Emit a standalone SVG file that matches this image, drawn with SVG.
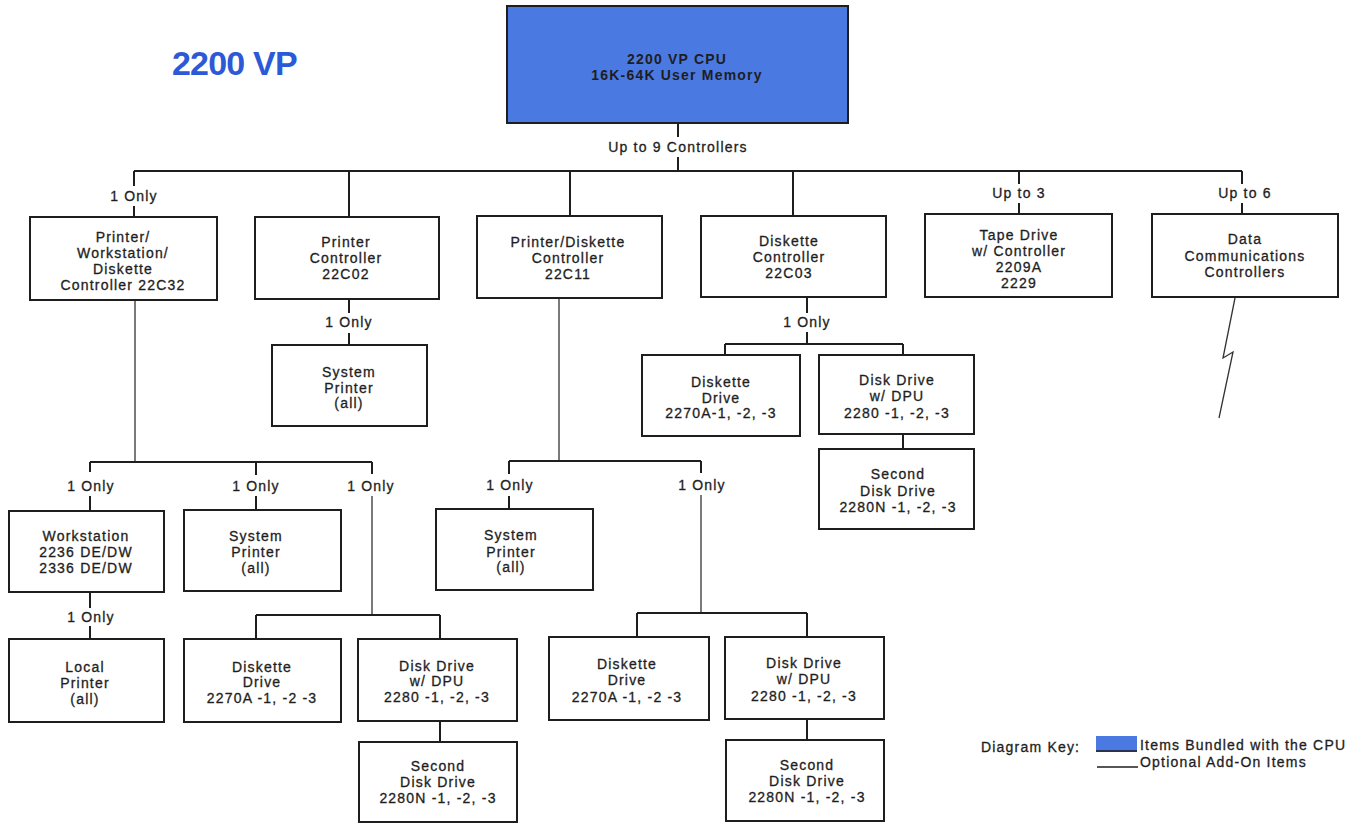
<svg xmlns="http://www.w3.org/2000/svg" width="1345" height="823" viewBox="0 0 1345 823">
<style>
text{font-family:"Liberation Sans",Arial,Helvetica,sans-serif;font-size:14px;letter-spacing:1.2px;fill:#1e1e1e;stroke:#1e1e1e;stroke-width:0.3px;text-anchor:middle}
.box{fill:#fff;stroke:#1e1e1e;stroke-width:2}
.cpu{fill:#4b79e2;stroke:#1e1e1e;stroke-width:2}
.b{font-weight:bold;stroke:none}
.c{fill:none;stroke:#1e1e1e;stroke-width:2}
.t{fill:none;stroke:#333;stroke-width:1.3}
.l{text-anchor:start}
</style>
<rect width="1345" height="823" fill="#fff"/>
<text x="172" y="75" class="l" style="font-size:34px;font-weight:bold;letter-spacing:-0.8px;fill:#2c5ad6;stroke:none">2200 VP</text>

<g id="connectors">
<path class="c" d="M678,123V137M678,157V171M134,171H1242M134,171V186M134,206V217M349,171V217M570,171V216M793,171V216M1019,171V184M1019,203V214M1242,171V184M1242,203V214"/>
<path class="c" d="M349,299V313M349,333V345"/>
<path class="c" d="M807,297V313M807,332V344M725,344H903M725,344V355M903,344V355M903,434V449"/>
<path class="t" d="M1235,298L1223,358L1233,352L1219,418"/>
<path class="t" d="M135,300V462M372,496V615"/>
<path class="c" d="M90,462H372M90,462V472M90,496V511M256,462V475M256,496V510M372,462V474M256,615H440M256,615V639M440,615V639M90,592V608M90,626V639M440,721V742"/>
<path class="t" d="M559,298V461M701,495V613"/>
<path class="c" d="M509,461H701M509,461V474M509,496V509M701,461V473M637,613H807M637,613V637M807,613V637M807,719V740"/>
</g>

<g id="labels">
<text x="678" y="152">Up to 9 Controllers</text>
<text x="134" y="201">1 Only</text>
<text x="1019" y="198">Up to 3</text>
<text x="1245" y="198">Up to 6</text>
<text x="349" y="327">1 Only</text>
<text x="807" y="327">1 Only</text>
<text x="91" y="491">1 Only</text>
<text x="256" y="491">1 Only</text>
<text x="371" y="491">1 Only</text>
<text x="91" y="622">1 Only</text>
<text x="510" y="490">1 Only</text>
<text x="702" y="490">1 Only</text>
</g>

<g id="cpu">
<rect class="cpu" x="507" y="6" width="341" height="117"/>
<text class="b" x="677" y="64">2200 VP CPU</text>
<text class="b" x="677" y="80">16K-64K User Memory</text>
</g>

<g id="ctrl-22c32">
<rect class="box" x="30" y="217" width="187" height="83"/>
<text x="123" y="242">Printer/</text>
<text x="123" y="258">Workstation/</text>
<text x="123" y="274">Diskette</text>
<text x="123" y="290">Controller 22C32</text>
</g>

<g id="ctrl-22c02">
<rect class="box" x="255" y="217" width="184" height="82"/>
<text x="346" y="247">Printer</text>
<text x="346" y="263">Controller</text>
<text x="346" y="279">22C02</text>
</g>

<g id="ctrl-22c11">
<rect class="box" x="477" y="216" width="185" height="82"/>
<text x="568" y="247">Printer/Diskette</text>
<text x="568" y="263">Controller</text>
<text x="568" y="279">22C11</text>
</g>

<g id="ctrl-22c03">
<rect class="box" x="701" y="216" width="185" height="81"/>
<text x="789" y="246">Diskette</text>
<text x="789" y="262">Controller</text>
<text x="789" y="278">22C03</text>
</g>

<g id="tape">
<rect class="box" x="925" y="214" width="187" height="83"/>
<text x="1019" y="240">Tape Drive</text>
<text x="1019" y="256">w/ Controller</text>
<text x="1019" y="272">2209A</text>
<text x="1019" y="288">2229</text>
</g>

<g id="datacomm">
<rect class="box" x="1152" y="214" width="186" height="83"/>
<text x="1245" y="244">Data</text>
<text x="1245" y="261">Communications</text>
<text x="1245" y="277">Controllers</text>
</g>

<g id="b-sysprinter">
<rect class="box" x="272" y="345" width="155" height="81"/>
<text x="349" y="377">System</text>
<text x="349" y="393">Printer</text>
<text x="349" y="408">(all)</text>
</g>

<g id="d-diskette">
<rect class="box" x="642" y="355" width="158" height="81"/>
<text x="721" y="387">Diskette</text>
<text x="721" y="403">Drive</text>
<text x="721" y="418">2270A-1, -2, -3</text>
</g>

<g id="d-disk">
<rect class="box" x="819" y="355" width="155" height="79"/>
<text x="897" y="385">Disk Drive</text>
<text x="897" y="401">w/ DPU</text>
<text x="897" y="418">2280 -1, -2, -3</text>
</g>

<g id="d-second">
<rect class="box" x="819" y="449" width="155" height="80"/>
<text x="898" y="479">Second</text>
<text x="898" y="496">Disk Drive</text>
<text x="898" y="512">2280N -1, -2, -3</text>
</g>

<g id="a-workstation">
<rect class="box" x="9" y="511" width="155" height="81"/>
<text x="86" y="541">Workstation</text>
<text x="86" y="557">2236 DE/DW</text>
<text x="86" y="573">2336 DE/DW</text>
</g>

<g id="a-sysprinter">
<rect class="box" x="184" y="510" width="157" height="81"/>
<text x="256" y="541">System</text>
<text x="256" y="557">Printer</text>
<text x="256" y="573">(all)</text>
</g>

<g id="a-local">
<rect class="box" x="9" y="639" width="155" height="83"/>
<text x="85" y="672">Local</text>
<text x="85" y="688">Printer</text>
<text x="85" y="704">(all)</text>
</g>

<g id="a-diskette">
<rect class="box" x="184" y="639" width="157" height="83"/>
<text x="262" y="672">Diskette</text>
<text x="262" y="687">Drive</text>
<text x="262" y="703">2270A -1, -2 -3</text>
</g>

<g id="a-disk">
<rect class="box" x="358" y="639" width="159" height="82"/>
<text x="437" y="671">Disk Drive</text>
<text x="437" y="686">w/ DPU</text>
<text x="437" y="702">2280 -1, -2, -3</text>
</g>

<g id="a-second">
<rect class="box" x="359" y="742" width="158" height="80"/>
<text x="438" y="771">Second</text>
<text x="438" y="787">Disk Drive</text>
<text x="438" y="803">2280N -1, -2, -3</text>
</g>

<g id="c-sysprinter">
<rect class="box" x="436" y="509" width="157" height="81"/>
<text x="511" y="540">System</text>
<text x="511" y="557">Printer</text>
<text x="511" y="572">(all)</text>
</g>

<g id="c-diskette">
<rect class="box" x="549" y="637" width="160" height="83"/>
<text x="627" y="669">Diskette</text>
<text x="627" y="685">Drive</text>
<text x="627" y="702">2270A -1, -2 -3</text>
</g>

<g id="c-disk">
<rect class="box" x="725" y="637" width="159" height="82"/>
<text x="804" y="668">Disk Drive</text>
<text x="804" y="684">w/ DPU</text>
<text x="804" y="701">2280 -1, -2, -3</text>
</g>

<g id="c-second">
<rect class="box" x="726" y="740" width="158" height="81"/>
<text x="807" y="770">Second</text>
<text x="807" y="786">Disk Drive</text>
<text x="807" y="802">2280N -1, -2, -3</text>
</g>

<g id="key">
<text x="981" y="752" class="l">Diagram Key:</text>
<rect x="1096" y="736" width="41" height="16" fill="#4b79e2"/>
<line x1="1096" y1="751" x2="1137" y2="751" stroke="#1e1e1e" stroke-width="1.5"/>
<text x="1140" y="750" class="l">Items Bundled with the CPU</text>
<line x1="1097" y1="767" x2="1138" y2="767" stroke="#1e1e1e" stroke-width="1.5"/>
<text x="1140" y="767" class="l">Optional Add-On Items</text>
</g>
</svg>
